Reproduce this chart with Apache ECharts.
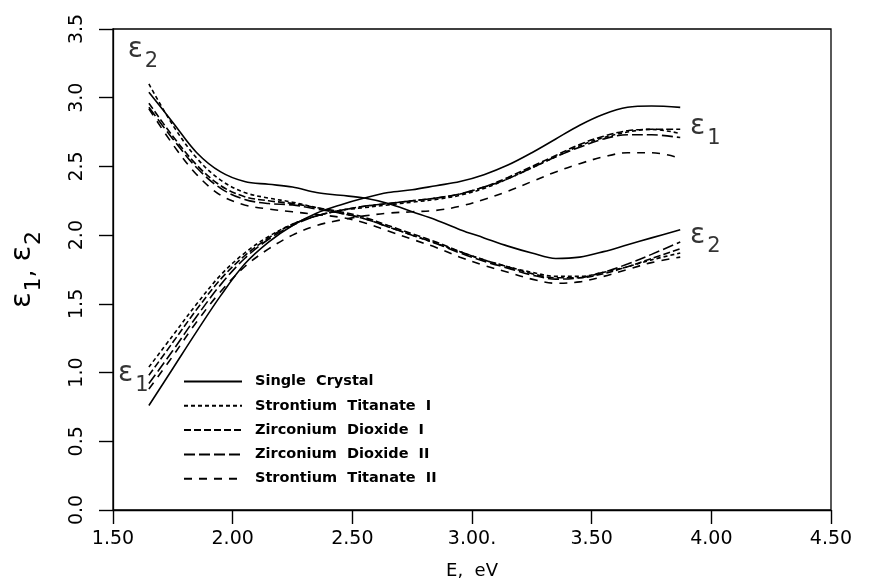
<!DOCTYPE html>
<html>
<head>
<meta charset="utf-8">
<script src="https://cdn.jsdelivr.net/npm/echarts@6/dist/echarts.min.js"></script>
<style>
  html, body { margin: 0; padding: 0; background: #fff; }
  #container { width: 873px; height: 583px; }
</style>
</head>
<body>
<div id="container"></div>
<script>
// photon energy, eV
var energy = [1.65, 1.75, 1.85, 1.95, 2.05, 2.15, 2.25, 2.35, 2.45, 2.55, 2.65, 2.75,
              2.85, 2.95, 3.05, 3.15, 3.25, 3.35, 3.45, 3.55, 3.65, 3.75, 3.87];

// epsilon 1 (real part)
var singleE1 = [0.76, 1.03, 1.30, 1.56, 1.79, 1.95, 2.07, 2.16, 2.22, 2.27, 2.31, 2.33,
                2.36, 2.39, 2.44, 2.51, 2.60, 2.70, 2.80, 2.88, 2.93, 2.94, 2.93];
var srti1E1  = [1.04, 1.27, 1.50, 1.71, 1.87, 1.99, 2.08, 2.14, 2.18, 2.20, 2.22, 2.24,
                2.26, 2.29, 2.34, 2.41, 2.49, 2.57, 2.65, 2.71, 2.75, 2.77, 2.74];
var zr1E1    = [0.98, 1.22, 1.46, 1.68, 1.85, 1.98, 2.08, 2.14, 2.18, 2.21, 2.23, 2.25,
                2.27, 2.30, 2.35, 2.42, 2.50, 2.58, 2.66, 2.72, 2.76, 2.77, 2.77];
var zr2E1    = [0.92, 1.16, 1.41, 1.64, 1.83, 1.97, 2.07, 2.14, 2.18, 2.21, 2.23, 2.25,
                2.27, 2.30, 2.35, 2.41, 2.49, 2.57, 2.64, 2.70, 2.73, 2.73, 2.71];
var srti2E1  = [0.88, 1.12, 1.37, 1.59, 1.77, 1.90, 2.00, 2.07, 2.11, 2.14, 2.16, 2.17,
                2.18, 2.21, 2.26, 2.32, 2.39, 2.46, 2.52, 2.57, 2.60, 2.60, 2.56];

// epsilon 2 (imaginary part)
var singleE2 = [3.04, 2.82, 2.60, 2.46, 2.39, 2.37, 2.35, 2.31, 2.29, 2.27, 2.23, 2.17,
                2.11, 2.04, 1.98, 1.92, 1.87, 1.83, 1.84, 1.88, 1.93, 1.98, 2.04];
var srti1E2  = [3.10, 2.80, 2.56, 2.40, 2.31, 2.27, 2.24, 2.20, 2.16, 2.12, 2.06, 2.00,
                1.94, 1.88, 1.82, 1.77, 1.73, 1.70, 1.70, 1.73, 1.77, 1.82, 1.87];
var zr1E2    = [2.96, 2.72, 2.51, 2.36, 2.28, 2.25, 2.23, 2.20, 2.17, 2.13, 2.07, 2.01,
                1.95, 1.88, 1.82, 1.77, 1.72, 1.69, 1.69, 1.72, 1.77, 1.83, 1.90];
var zr2E2    = [2.93, 2.70, 2.49, 2.34, 2.26, 2.23, 2.22, 2.19, 2.16, 2.12, 2.06, 2.00,
                1.94, 1.87, 1.81, 1.76, 1.71, 1.68, 1.69, 1.73, 1.79, 1.86, 1.95];
var srti2E2  = [2.92, 2.66, 2.44, 2.29, 2.22, 2.19, 2.17, 2.15, 2.13, 2.09, 2.03, 1.97,
                1.91, 1.84, 1.78, 1.73, 1.68, 1.65, 1.66, 1.70, 1.75, 1.80, 1.84];

var seriesNames = ['Single  Crystal', 'Strontium  Titanate  I', 'Zirconium  Dioxide  I',
                   'Zirconium  Dioxide  II', 'Strontium  Titanate  II'];

var xTickLabels = ['1.50', '2.00', '2.50', '3.00.', '3.50', '4.00', '4.50'];
var yTickLabels = ['0.0', '0.5', '1.0', '1.5', '2.0', '2.5', '3.0', '3.5'];

// curve tags: [E, value, subscript]
var curveTags = [[1.625, 3.32, '2'], [1.585, 0.96, '1'], [3.975, 2.76, '1'], [3.975, 1.97, '2']];

var dashes = ['solid', [4, 3], [7, 3], [11, 4], [8, 7]];

function line(name, vals, dash) {
    return {
        type: 'line',
        name: name,
        data: energy.map(function (e, i) { return [e, vals[i]]; }),
        smooth: 0.35,
        symbol: 'none',
        showSymbol: false,
        animation: false,
        lineStyle: { color: '#000', width: 1.6, type: dash }
    };
}

window.onload = function () {
    var dom = document.getElementById("container");
    var myChart = echarts.init(dom, null, { renderer: 'canvas' });
    var e1 = [singleE1, srti1E1, zr1E1, zr2E1, srti2E1];
    var e2 = [singleE2, srti1E2, zr1E2, zr2E2, srti2E2];
    var series = [];
    for (var i = 0; i < seriesNames.length; i++) {
        series.push(line(seriesNames[i], e1[i], dashes[i]));
        series.push(line(seriesNames[i], e2[i], dashes[i]));
    }
    series.push({
        type: 'scatter',
        name: 'tags',
        symbolSize: 0,
        animation: false,
        data: curveTags,
        label: {
            show: true,
            position: 'inside',
            formatter: function (p) { return '{e|\u03b5}{s|' + p.data[2] + '}'; },
            rich: {
                e: { fontSize: 28, fontFamily: 'DejaVu Sans', color: '#000', verticalAlign: 'top', lineHeight: 36 },
                s: { fontSize: 21, fontFamily: 'DejaVu Sans', color: '#000', verticalAlign: 'bottom', lineHeight: 36, padding: [0, 0, 0, 2] }
            }
        }
    });

    var tickStyle = { show: true, inside: false, length: 14, lineStyle: { color: '#000', width: 1.4 } };

    var option = {
        backgroundColor: '#fff',
        animation: false,
        color: ['#000'],
        grid: {
            left: 113, right: 42, top: 29, bottom: 73,
            outerBoundsMode: 'none',
            containLabel: false,
            show: true, borderColor: '#000', borderWidth: 1.3, backgroundColor: 'transparent'
        },
        legend: {
            data: seriesNames,
            orient: 'vertical',
            left: 183,
            top: 374,
            padding: 0,
            itemWidth: 58,
            itemHeight: 14,
            itemGap: 9.3,
            itemStyle: { opacity: 0 },
            textStyle: {
                fontFamily: 'DejaVu Sans', fontWeight: 'bold', fontSize: 14.5, lineHeight: 14, color: '#000',
                padding: [0, 0, 0, 8]
            }
        },
        xAxis: {
            type: 'value',
            min: 1.5, max: 4.5, interval: 0.5,
            name: 'E,  eV',
            nameLocation: 'middle',
            nameGap: 52,
            nameTextStyle: { fontFamily: 'DejaVu Sans', fontSize: 18, color: '#000' },
            axisLine: { show: true, onZero: false, lineStyle: { color: '#000', width: 1.3 } },
            axisTick: tickStyle,
            splitLine: { show: false },
            axisLabel: {
                margin: 20,
                fontFamily: 'DejaVu Sans', fontSize: 19, color: '#000',
                formatter: function (v) { return xTickLabels[Math.round((v - 1.5) / 0.5)]; }
            }
        },
        yAxis: {
            type: 'value',
            min: 0, max: 3.5, interval: 0.5,
            name: '{e|\u03b5}{s|1}{c|, }{e|\u03b5}{s|2}',
            nameLocation: 'middle',
            nameGap: 68,
            nameRotate: 90,
            nameTextStyle: {
                color: '#000',
                rich: {
                    e: { fontSize: 29, fontFamily: 'DejaVu Sans', color: '#000', verticalAlign: 'top', lineHeight: 37 },
                    s: { fontSize: 22, fontFamily: 'DejaVu Sans', color: '#000', verticalAlign: 'bottom', lineHeight: 37, padding: [0, 0, 0, 1] },
                    c: { fontSize: 25, fontFamily: 'DejaVu Sans', color: '#000', lineHeight: 37 }
                }
            },
            axisLine: { show: true, onZero: false, lineStyle: { color: '#000', width: 1.3 } },
            axisTick: tickStyle,
            splitLine: { show: false },
            axisLabel: {
                rotate: 90,
                margin: 26,
                fontFamily: 'DejaVu Sans', fontSize: 19, color: '#000',
                formatter: function (v) { return yTickLabels[Math.round(v / 0.5)]; }
            }
        },
        series: series
    };
    myChart.setOption(option);
};
</script>
</body>
</html>
